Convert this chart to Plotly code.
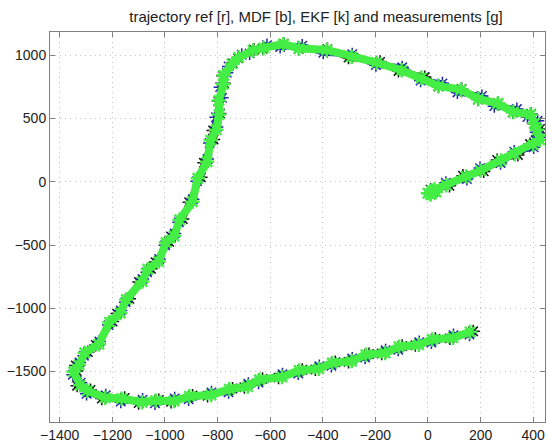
import plotly.graph_objects as go

# reference trajectory (red)
ref_x = [15, 75, 140, 205, 270, 335, 395, 415, 420, 410, 385, 330, 260, 198, 120, 47,
         -20, -105, -190, -295, -390, -485, -555, -620, -670, -715, -750, -772, -782, -790,
         -798, -810, -822, -845, -870, -901, -939, -970, -991, -1029, -1060, -1092, -1142,
         -1175, -1206, -1256, -1300, -1332, -1342, -1327, -1290, -1232, -1160, -1092, -1030,
         -970, -902, -830, -750, -690, -636, -560, -485, -420, -359, -295, -231, -168, -105,
         -40, 21, 90, 165]
ref_y = [-70, -20, 35, 95, 160, 225, 285, 340, 405, 470, 525, 560, 610, 664, 720, 765,
         815, 890, 935, 995, 1035, 1062, 1080, 1065, 1030, 990, 925, 850, 763, 650,
         525, 420, 320, 165, 20, -150, -307, -420, -488, -622, -700, -780, -937,
         -1030, -1118, -1276, -1360, -1440, -1510, -1600, -1660, -1700, -1722, -1735, -1738,
         -1725, -1704, -1678, -1648, -1610, -1572, -1535, -1500, -1470, -1440, -1410, -1375,
         -1345, -1312, -1280, -1255, -1225, -1195]

# MDF estimate (blue)
mdf_x = [20, 68, 148, 198, 276, 328, 402, 422, 412, 417, 378, 338, 252, 205, 112, 55,
         -28, -98, -198, -288, -398, -478, -562, -612, -678, -708, -758, -765, -790, -783,
         -806, -803, -830, -838, -878, -894, -947, -963, -999, -1022, -1068, -1085, -1150,
         -1168, -1214, -1249, -1308, -1325, -1350, -1320, -1298, -1225, -1168, -1085, -1038,
         -963, -910, -823, -758, -683, -644, -553, -493, -413, -367, -288, -239, -161, -113,
         -33, 13, 97, 158]
mdf_y = [-80, -8, 22, 108, 148, 238, 272, 352, 392, 482, 512, 575, 598, 678, 706, 778,
         800, 905, 922, 1008, 1020, 1076, 1066, 1080, 1015, 1004, 912, 862, 748, 664,
         510, 434, 306, 180, 5, -138, -320, -408, -502, -610, -715, -768, -952,
         -1018, -1133, -1262, -1375, -1428, -1525, -1588, -1676, -1688, -1738, -1722, -1752,
         -1712, -1720, -1665, -1664, -1597, -1588, -1522, -1515, -1457, -1455, -1397, -1390,
         -1332, -1328, -1268, -1270, -1212, -1208]

# EKF estimate (black)
ekf_x = [10, 82, 133, 212, 263, 342, 388, 410, 426, 404, 392, 322, 268, 190, 128, 40,
         -12, -112, -182, -302, -382, -492, -548, -628, -662, -722, -742, -780, -775, -797,
         -791, -817, -815, -852, -863, -908, -932, -977, -984, -1036, -1053, -1099, -1135,
         -1182, -1199, -1263, -1293, -1339, -1335, -1334, -1283, -1240, -1153, -1100, -1023,
         -977, -895, -838, -743, -698, -629, -568, -478, -428, -352, -302, -224, -176, -98,
         -48, 28, 83, 172]
ekf_y = [-62, -32, 48, 82, 172, 212, 298, 328, 418, 458, 538, 548, 622, 650, 734, 752,
         828, 876, 948, 982, 1048, 1050, 1092, 1052, 1045, 976, 938, 838, 778, 636,
         540, 406, 334, 150, 35, -162, -295, -432, -475, -635, -688, -792, -925,
         -1042, -1105, -1290, -1346, -1452, -1496, -1612, -1646, -1714, -1708, -1750, -1725,
         -1740, -1690, -1692, -1634, -1624, -1558, -1548, -1486, -1484, -1426, -1424, -1362,
         -1358, -1298, -1292, -1242, -1238, -1182]

# measurements (green)
meas_x = [0, 25, 10, 30, 15, 70, 145, 200, 278, 330, 400, 425, 415, 405, 390, 325, 265,
          192, 125, 40, -25, -100, -195, -290, -385, -490, -550, -625, -665, -720, -745,
          -777, -778, -795, -794, -805, -826, -840, -875, -896, -944, -965, -996, -1024,
          -1065, -1087, -1147, -1170, -1211, -1251, -1305, -1327, -1347, -1322, -1295,
          -1227, -1165, -1087, -1035, -965, -907, -825, -755, -685, -641, -555, -490, -415,
          -364, -290, -236, -163, -110, -35, 16, 95, 160]
meas_y = [-90, -60, -100, -80, -70, -28, 42, 88, 168, 218, 292, 332, 412, 462, 532, 552,
          618, 656, 728, 758, 822, 882, 942, 988, 1042, 1055, 1088, 1058, 1038, 982, 932,
          842, 770, 642, 532, 412, 328, 158, 28, -158, -300, -428, -480, -630, -692, -788,
          -930, -1038, -1110, -1284, -1352, -1448, -1502, -1608, -1652, -1708, -1714, -1743,
          -1730, -1733, -1696, -1686, -1640, -1618, -1564, -1543, -1492, -1478, -1432,
          -1418, -1367, -1353, -1304, -1288, -1247, -1233, -1187]

x_ticks = [-1400, -1200, -1000, -800, -600, -400, -200, 0, 200, 400]
y_ticks = [-1500, -1000, -500, 0, 500, 1000]

fig = go.Figure()

fig.add_trace(go.Scatter(x=ref_x, y=ref_y, mode='lines+markers',
                         line=dict(color='red', width=2),
                         marker=dict(symbol='asterisk-open', size=6, line=dict(color='red', width=1))))
fig.add_trace(go.Scatter(x=ekf_x, y=ekf_y, mode='lines+markers',
                         line=dict(color='#111111', width=6),
                         marker=dict(symbol='asterisk-open', size=11, line=dict(color='#111111', width=1.5))))
fig.add_trace(go.Scatter(x=mdf_x, y=mdf_y, mode='lines+markers',
                         line=dict(color='#2222aa', width=6),
                         marker=dict(symbol='asterisk-open', size=11, line=dict(color='#2222aa', width=1.5))))
fig.add_trace(go.Scatter(x=meas_x, y=meas_y, mode='lines+markers',
                         line=dict(color='#44ee44', width=8),
                         marker=dict(symbol='asterisk-open', size=12, line=dict(color='#44ee44', width=2.5))))

axis_style = dict(showline=True, linecolor='#808080', linewidth=1, mirror='ticks',
                  ticks='inside', ticklen=5, tickcolor='#808080',
                  showgrid=True, gridcolor='#c4c4c4', griddash='1px,4px', gridwidth=1,
                  zeroline=False, automargin=False,
                  tickfont=dict(family='Liberation Sans, Arial', size=14, color='#222222'))

fig.update_xaxes(range=[-1437, 445], tickvals=x_ticks, **axis_style)
fig.update_yaxes(range=[-1899, 1184], tickvals=y_ticks, **axis_style)

fig.update_layout(
    width=548, height=447,
    margin=dict(l=50, r=3, t=32, b=25),
    paper_bgcolor='white', plot_bgcolor='white',
    showlegend=False,
    title=dict(text='trajectory ref [r], MDF [b], EKF [k] and measurements [g]',
               x=316 / 548, xanchor='center', y=1 - 16.5 / 447, yanchor='middle',
               font=dict(family='Liberation Sans, Arial', size=15, color='#222222')),
)

# the page's default body margin would shift the figure by 8px
fig.write_html("out.html", config={'displayModeBar': False},
               post_script="document.body.style.margin='0';")
